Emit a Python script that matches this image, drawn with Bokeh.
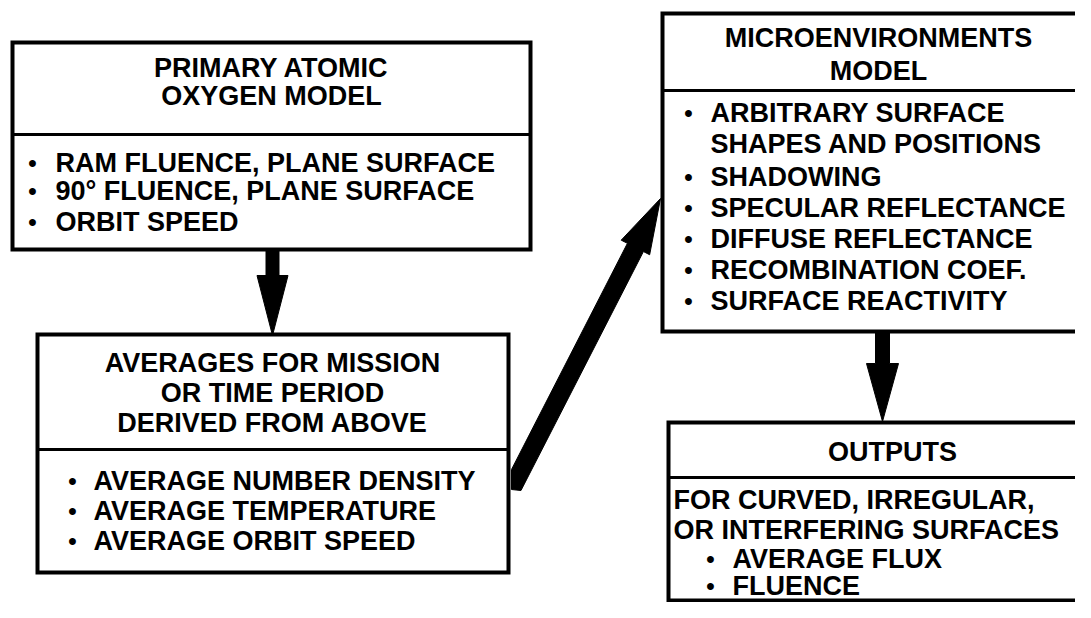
import numpy as np
from bokeh.plotting import figure
from bokeh.models import Range1d
from bokeh.core.properties import value
from bokeh.embed import file_html
from bokeh.resources import INLINE

# ---------------- content ----------------
box1_title = ["PRIMARY ATOMIC", "OXYGEN MODEL"]
box1_items = ["RAM FLUENCE, PLANE SURFACE", "90° FLUENCE, PLANE SURFACE", "ORBIT SPEED"]
box1_bullets = [True, True, True]

box2_title = ["AVERAGES FOR MISSION", "OR TIME PERIOD", "DERIVED FROM ABOVE"]
box2_items = ["AVERAGE NUMBER DENSITY", "AVERAGE TEMPERATURE", "AVERAGE ORBIT SPEED"]
box2_bullets = [True, True, True]

box3_title = ["MICROENVIRONMENTS", "MODEL"]
box3_items = ["ARBITRARY SURFACE", "SHAPES AND POSITIONS", "SHADOWING",
              "SPECULAR REFLECTANCE", "DIFFUSE REFLECTANCE",
              "RECOMBINATION COEF.", "SURFACE REACTIVITY"]
box3_bullets = [True, False, True, True, True, True, True]

box4_title = ["OUTPUTS"]
box4_items = ["FOR CURVED, IRREGULAR,", "OR INTERFERING SURFACES", "AVERAGE FLUX", "FLUENCE"]
box4_bullets = [False, False, True, True]

# ---------------- layout (pixel-like coordinates, y downward) ----------------
boxes = [
    dict(l=12, r=530, t=42, b=249, d=134, cx=271, ty=[67, 95], iy=[162, 190, 221],
         bx=32, tx=55, nx=55, title=box1_title, items=box1_items, bullets=box1_bullets),
    dict(l=37, r=508, t=334, b=572, d=449, cx=272, ty=[362, 392, 422], iy=[480, 510, 540],
         bx=72, tx=93, nx=93, title=box2_title, items=box2_items, bullets=box2_bullets),
    dict(l=662, r=1110, t=13, b=331, d=90, cx=878, ty=[37, 70],
         iy=[112, 143, 176, 207, 238, 269, 300],
         bx=688, tx=710, nx=710, title=box3_title, items=box3_items, bullets=box3_bullets),
    dict(l=668, r=1110, t=422, b=600, d=477, cx=892, ty=[451], iy=[499, 529, 558, 585],
         bx=710, tx=732, nx=673, title=box4_title, items=box4_items, bullets=box4_bullets),
]

W, H = 1075, 602
p = figure(width=W, height=H, x_range=Range1d(0, W), y_range=Range1d(H, 0),
           output_backend="svg", toolbar_location=None, min_border=0,
           x_axis_location=None, y_axis_location=None)
p.grid.visible = False
p.outline_line_color = None
p.background_fill_color = "white"
p.border_fill_color = "white"

FONT = value("Liberation Sans")
FS = "27px"

# boxes
p.quad(left=[b["l"] for b in boxes], right=[b["r"] for b in boxes],
       top=[b["t"] for b in boxes], bottom=[b["b"] for b in boxes],
       fill_color="white", line_color="black", line_width=4, line_join="miter")
p.segment(x0=[b["l"] for b in boxes], x1=[b["r"] for b in boxes],
          y0=[b["d"] for b in boxes], y1=[b["d"] for b in boxes],
          line_color="black", line_width=3)

# texts
for b in boxes:
    p.text(x=[b["cx"]] * len(b["title"]), y=b["ty"], text=b["title"],
           text_font=FONT, text_font_size=FS, text_font_style="bold",
           text_align="center", text_baseline="middle", text_color="black")
    xs = [b["tx"] if bul else b["nx"] for bul in b["bullets"]]
    p.text(x=xs, y=b["iy"], text=b["items"],
           text_font=FONT, text_font_size=FS, text_font_style="bold",
           text_align="left", text_baseline="middle", text_color="black")
    byy = [y for y, bul in zip(b["iy"], b["bullets"]) if bul]
    p.text(x=[b["bx"]] * len(byy), y=byy, text=["•"] * len(byy),
           text_font=FONT, text_font_size="24px", text_font_style="bold",
           text_align="center", text_baseline="middle", text_color="black")

# arrows
def down_arrow(cx, y0, yh, ytip, sw, hw):
    xs = [cx - sw / 2, cx + sw / 2, cx + sw / 2, cx + hw / 2, cx, cx - hw / 2, cx - sw / 2]
    ys = [y0, y0, yh, yh, ytip, yh, yh]
    return xs, ys

a1 = down_arrow(272, 249, 275, 335, 13, 31)
a3 = down_arrow(882, 331, 363, 421, 14, 32)

# diagonal arrow from box 2 to box 3
tail_c = np.array([516.0, 479.0])
tip = np.array([660.0, 198.0])
u = (tip - tail_c) / np.linalg.norm(tip - tail_c)
n = np.array([-u[1], u[0]])
shw, hhw, hl = 9.0, 16.0, 55.0
base = tip - hl * u
Lp = tail_c - shw * n
Rp = tail_c + shw * n
t_l = (511 - Lp[0]) / u[0]
tail_l = Lp + t_l * u
t_r = (490 - Rp[1]) / u[1]
tail_r = Rp + t_r * u
pts = [tail_l, np.array([511.0, 489.0]), tail_r, base + shw * n, base + hhw * n, tip,
       base - hhw * n, base - shw * n]
a2 = ([q[0] for q in pts], [q[1] for q in pts])

p.patches(xs=[a1[0], a2[0], a3[0]], ys=[a1[1], a2[1], a3[1]],
          fill_color="black", line_color="black", line_width=1)

open("out.html", "w").write(file_html(p, INLINE))
